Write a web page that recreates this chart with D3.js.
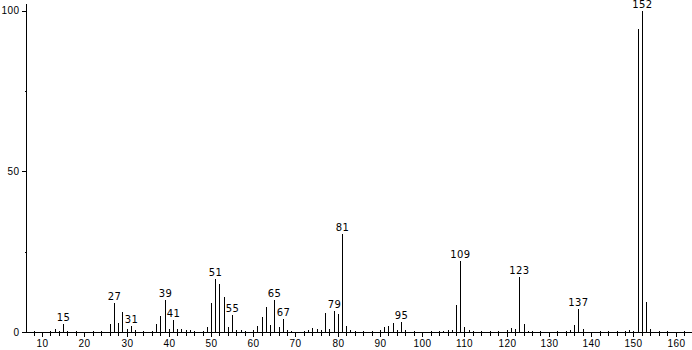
<!DOCTYPE html>
<html lang="en">
<head>
  <meta charset="UTF-8">
  <title>Mass spectrum</title>
  <style>
    body { margin: 0; background: #fff; }
    svg { display: block; font-family: "DejaVu Sans", sans-serif; }
    .peak { stroke: #000; stroke-width: 1; shape-rendering: crispEdges; }
    .axis line, .axis path { stroke: #000; shape-rendering: crispEdges; }
    .lbl { font-size: 10px; fill: #000; letter-spacing: 0.4px; }
  </style>
</head>
<body>
  <div id="chart"></div>
  <script src="https://cdn.jsdelivr.net/npm/d3@7"></script>
  <script>
    // m/z values and relative intensity
    var mz = [13, 15, 26, 27, 28, 29, 30, 31, 32, 37, 38, 39, 40, 41, 42, 43, 44, 45,
      49, 50, 51, 52, 53, 54, 55, 56, 57, 60, 61, 62, 63, 64, 65, 66, 67, 68, 69,
      73, 74, 75, 76, 77, 78, 79, 80, 81, 82, 83, 90, 91, 92, 93, 94, 95, 96,
      105, 106, 107, 108, 109, 110, 111, 120, 121, 122, 123, 124, 125,
      135, 136, 137, 138, 149, 150, 151, 152, 153, 154];
    var intensity = [0.8, 2.5, 2.4, 8.9, 2.7, 6.1, 0.8, 1.9, 0.5, 2.5, 5.0, 10.0, 0.8, 3.7, 0.8, 1.0, 0.6, 0.5,
      1.6, 9.1, 16.4, 14.9, 10.8, 1.6, 5.3, 0.6, 0.5, 0.5, 1.9, 4.8, 7.9, 2.3, 10.0, 1.6, 4.0, 0.5, 0.4,
      0.6, 1.2, 1.0, 0.6, 6.0, 1.0, 6.6, 5.6, 30.6, 1.9, 0.5, 0.5, 1.5, 1.9, 2.7, 0.6, 3.1, 0.5,
      0.4, 0.5, 0.7, 8.4, 22.1, 1.5, 0.5, 0.5, 1.1, 1.0, 17.0, 2.5, 0.4,
      0.6, 2.3, 7.0, 0.8, 0.5, 0.4, 94.1, 100, 9.4, 0.8];
    var labelled = [15, 27, 31, 39, 41, 51, 55, 65, 67, 79, 81, 95, 109, 123, 137, 152];
    var xTicks = [10, 20, 30, 40, 50, 60, 70, 80, 90, 100, 110, 120, 130, 140, 150, 160];
    var yTicks = [0, 50, 100];

    var W = 692, H = 350;
    var svg = d3.select('#chart').append('svg').attr('width', W).attr('height', H);

    var x = d3.scaleLinear().domain([6.2, 163.4]).range([26, 690]);
    var y = d3.scaleLinear().domain([0, 100]).range([332, 10.5]);
    var px = function (v) { return Math.round(x(v)) + 0.5; };

    var peaks = mz.map(function (m, i) { return { m: m, v: intensity[i] }; });

    // peaks
    svg.selectAll('line.peak')
      .data(peaks)
      .enter()
      .append('line')
      .attr('class', 'peak')
      .attr('x1', function (d) { return px(d.m); })
      .attr('x2', function (d) { return px(d.m); })
      .attr('y1', y(0))
      .attr('y2', function (d) { return y(d.v); });

    // peak labels
    svg.selectAll('text.plbl')
      .data(peaks.filter(function (d) { return labelled.indexOf(d.m) >= 0; }))
      .enter()
      .append('text')
      .attr('class', 'lbl')
      .attr('x', function (d) { return px(d.m); })
      .attr('y', function (d) { return y(d.v) - 3; })
      .attr('text-anchor', 'middle')
      .text(function (d) { return d.m; });

    // x axis
    var xAxis = d3.axisBottom(x).tickValues(xTicks).tickSize(4).tickSizeOuter(0).tickPadding(3);
    var gx = svg.append('g').attr('class', 'axis').attr('transform', 'translate(0,' + (y(0) + 0.5) + ')').call(xAxis);
    gx.select('.domain').attr('d', 'M26,0H692');
    gx.selectAll('text').attr('class', 'lbl').style('font-family', null).style('font-size', null);
    gx.selectAll('.tick').attr('transform', function (d) { return 'translate(' + px(d) + ',0)'; });
    // minor ticks every 2
    var minor = d3.range(8, 164, 2).filter(function (v) { return v % 10 !== 0; });
    gx.selectAll('line.minor')
      .data(minor)
      .enter()
      .append('line')
      .attr('class', 'minor')
      .attr('x1', px).attr('x2', px)
      .attr('y1', -2).attr('y2', 3);

    // y axis
    var yAxis = d3.axisLeft(y).tickValues(yTicks).tickSize(5).tickSizeOuter(0).tickPadding(2);
    var gy = svg.append('g').attr('class', 'axis').attr('transform', 'translate(26.5,0)').call(yAxis);
    gy.select('.domain').attr('d', 'M0,' + y(102) + 'V' + (y(0) + 0.5));
    gy.selectAll('text').attr('class', 'lbl').style('font-family', null).style('font-size', null);
    gy.selectAll('line.minor')
      .data([25, 75])
      .enter()
      .append('line')
      .attr('class', 'minor')
      .attr('x1', -2).attr('x2', 0)
      .attr('y1', function (d) { return Math.round(y(d)) + 0.5; })
      .attr('y2', function (d) { return Math.round(y(d)) + 0.5; });
  </script>
</body>
</html>
